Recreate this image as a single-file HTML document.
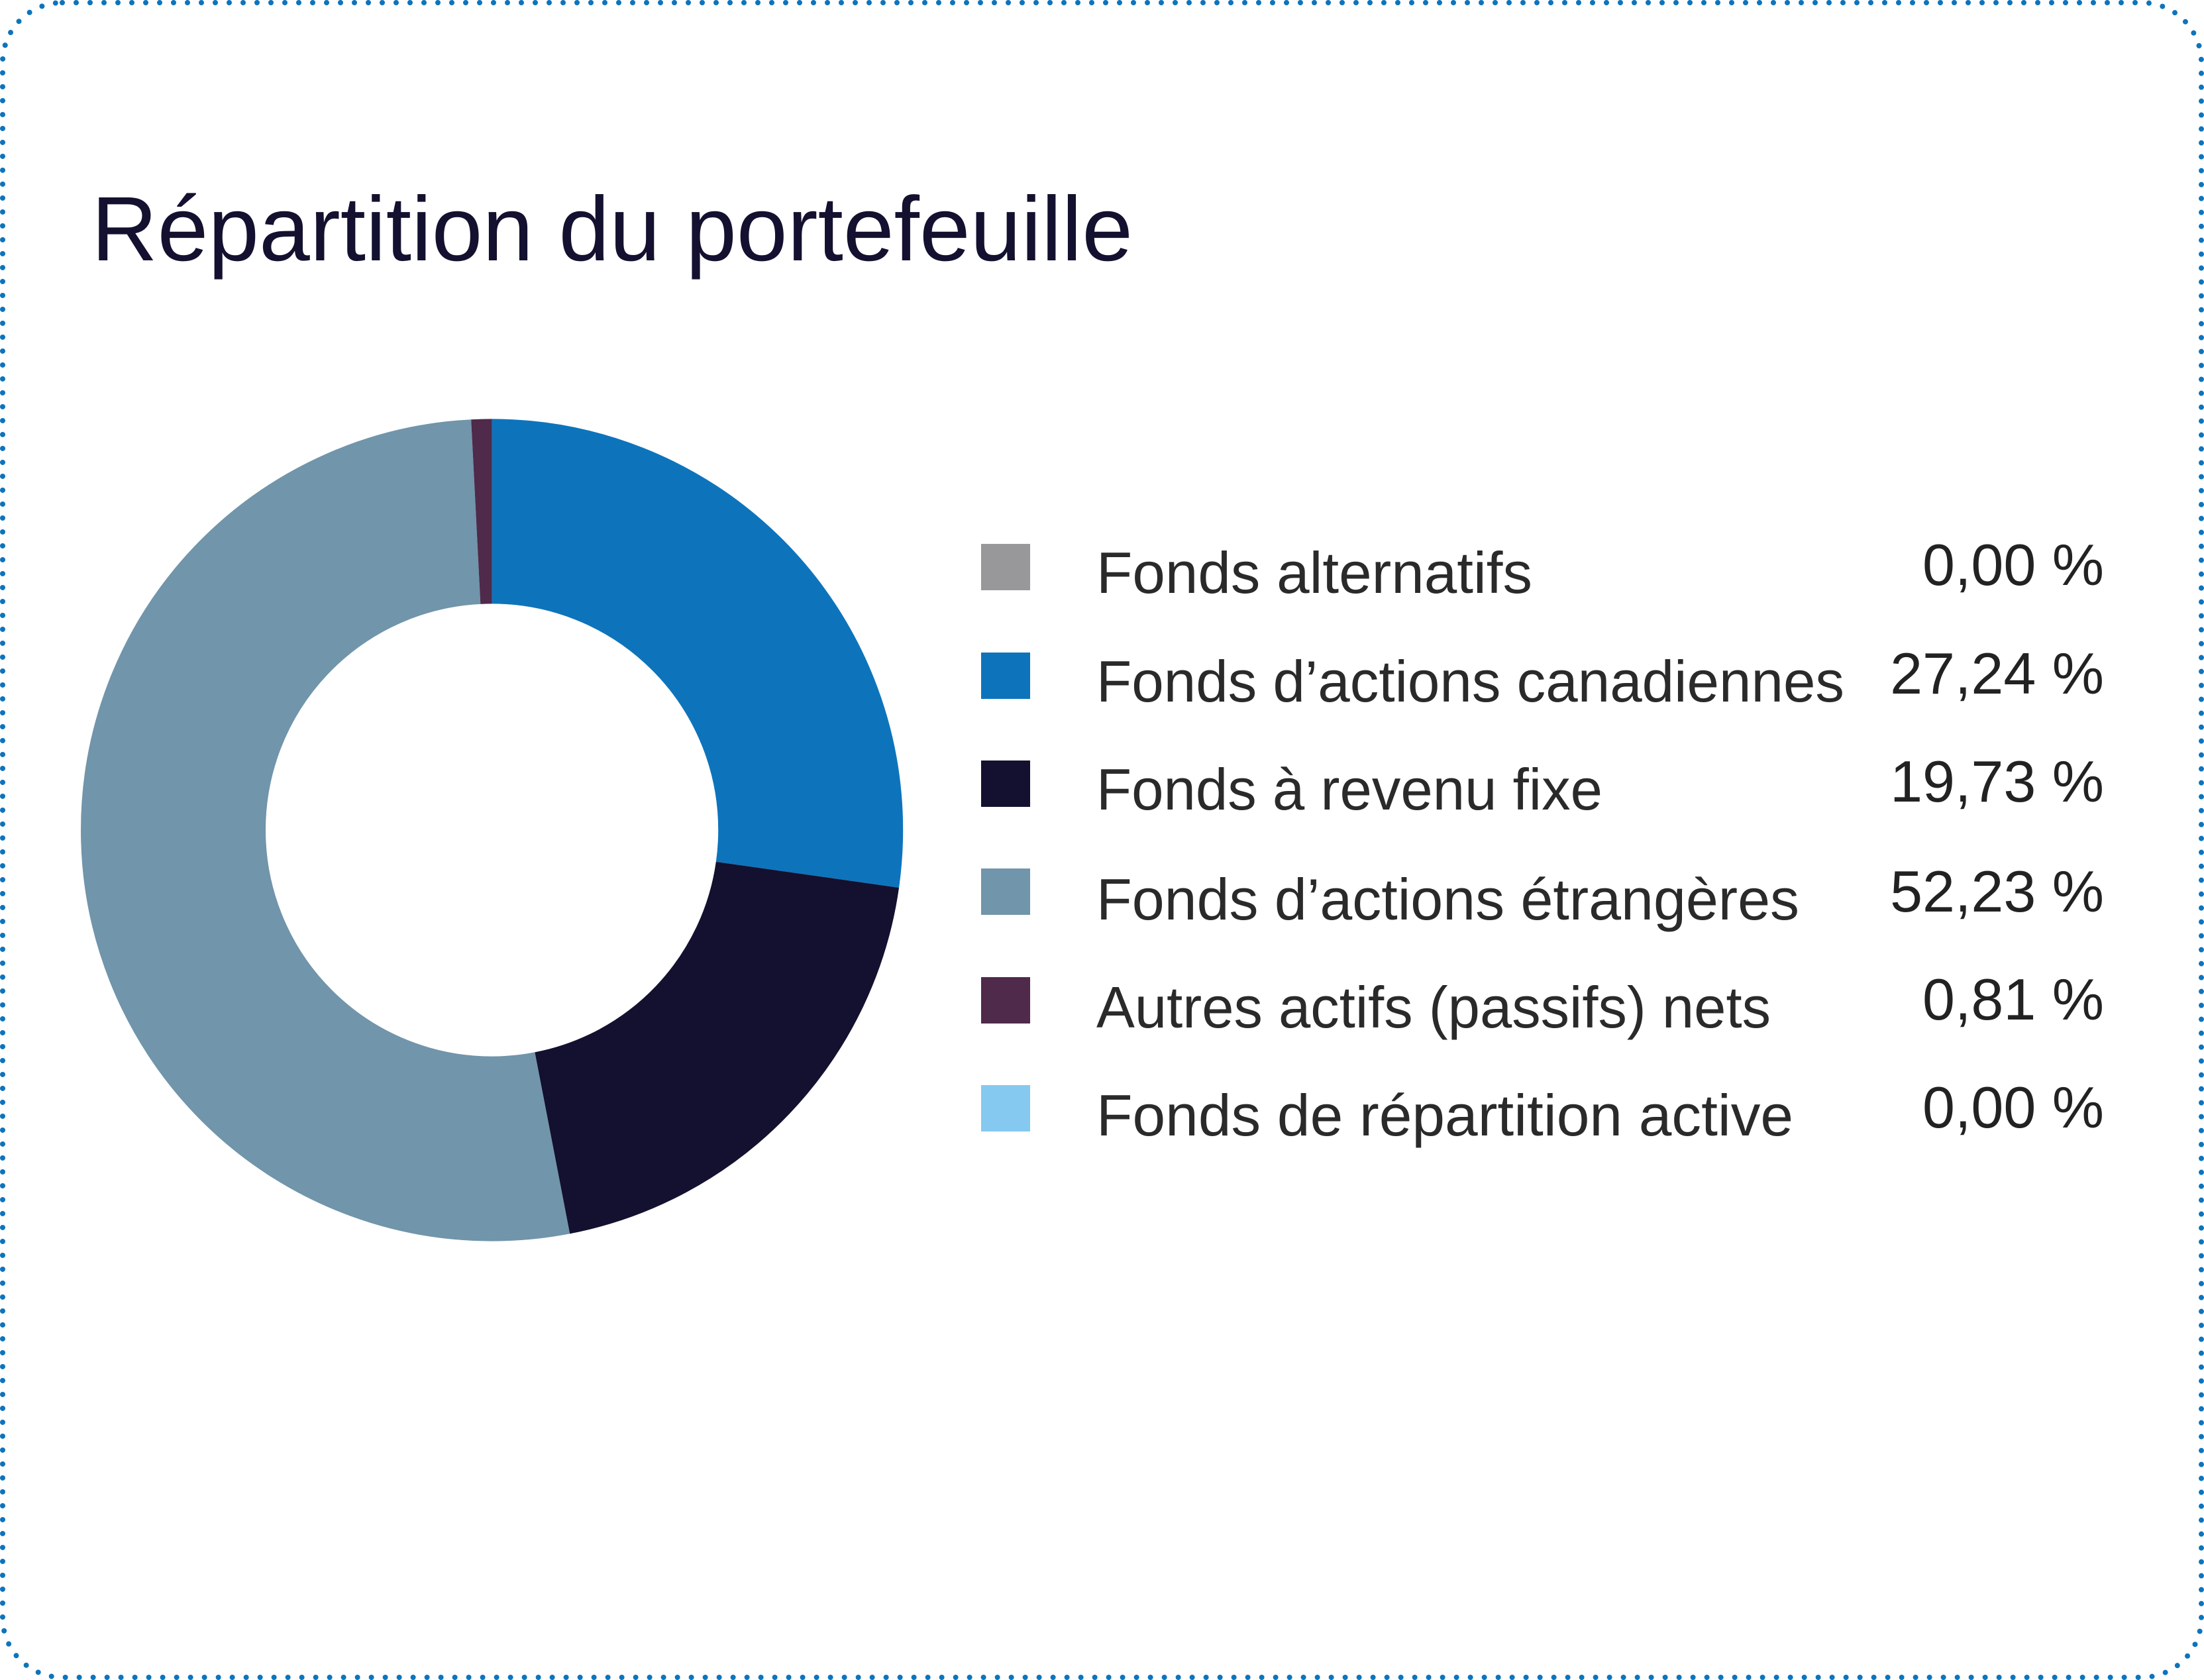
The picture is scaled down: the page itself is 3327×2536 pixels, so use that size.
<!DOCTYPE html>
<html><head><meta charset="utf-8"><style>
html,body{margin:0;padding:0;background:#fff;}
svg{display:block;}
text{font-family:"Liberation Sans",sans-serif;}
</style></head><body>
<svg width="3327" height="2536" viewBox="0 0 3327 2536" xmlns="http://www.w3.org/2000/svg">
<rect x="4" y="4" width="3319" height="2528" rx="90" ry="90" fill="#fff" stroke="#0d74bc" stroke-width="8" stroke-linecap="round" stroke-dasharray="0 21"/>
<text x="138" y="393" font-size="138" fill="#13112f" textLength="1572" lengthAdjust="spacingAndGlyphs">Répartition du portefeuille</text>
<g transform="rotate(-90 742.6 1253)" fill="none" stroke-width="279">
<circle cx="742.6" cy="1253" r="481.1" pathLength="100" stroke="#0d74bc" stroke-dasharray="27.24 200" stroke-dashoffset="0"/>
<circle cx="742.6" cy="1253" r="481.1" pathLength="100" stroke="#13112f" stroke-dasharray="19.73 200" stroke-dashoffset="-27.24"/>
<circle cx="742.6" cy="1253" r="481.1" pathLength="100" stroke="#7195aa" stroke-dasharray="52.23 200" stroke-dashoffset="-46.97"/>
<circle cx="742.6" cy="1253" r="481.1" pathLength="100" stroke="#4f2a4a" stroke-dasharray="0.81 200" stroke-dashoffset="-99.2"/>
</g>
<rect x="1481" y="821" width="74" height="70" fill="#98989a"/>
<rect x="1481" y="985" width="74" height="70" fill="#0d74bc"/>
<rect x="1481" y="1148" width="74" height="70" fill="#13112f"/>
<rect x="1481" y="1311" width="74" height="70" fill="#7195aa"/>
<rect x="1481" y="1475" width="74" height="70" fill="#4f2a4a"/>
<rect x="1481" y="1638" width="74" height="70" fill="#85c9f0"/>
<g font-size="88" fill="#2a2a2a">
<text x="1655" y="895" textLength="658" lengthAdjust="spacingAndGlyphs">Fonds alternatifs</text>
<text x="1655" y="1059" textLength="1129" lengthAdjust="spacingAndGlyphs">Fonds d’actions canadiennes</text>
<text x="1655" y="1222" textLength="764" lengthAdjust="spacingAndGlyphs">Fonds à revenu fixe</text>
<text x="1655" y="1388" textLength="1061" lengthAdjust="spacingAndGlyphs">Fonds d’actions étrangères</text>
<text x="1655" y="1551" textLength="1018" lengthAdjust="spacingAndGlyphs">Autres actifs (passifs) nets</text>
<text x="1655" y="1714" textLength="1052" lengthAdjust="spacingAndGlyphs">Fonds de répartition active</text>
</g>
<g font-size="88" fill="#222" text-anchor="end">
<text x="3176" y="883">0,00 %</text>
<text x="3176" y="1047">27,24 %</text>
<text x="3176" y="1210">19,73 %</text>
<text x="3176" y="1376">52,23 %</text>
<text x="3176" y="1539">0,81 %</text>
<text x="3176" y="1702">0,00 %</text>
</g>
</svg>
</body></html>
